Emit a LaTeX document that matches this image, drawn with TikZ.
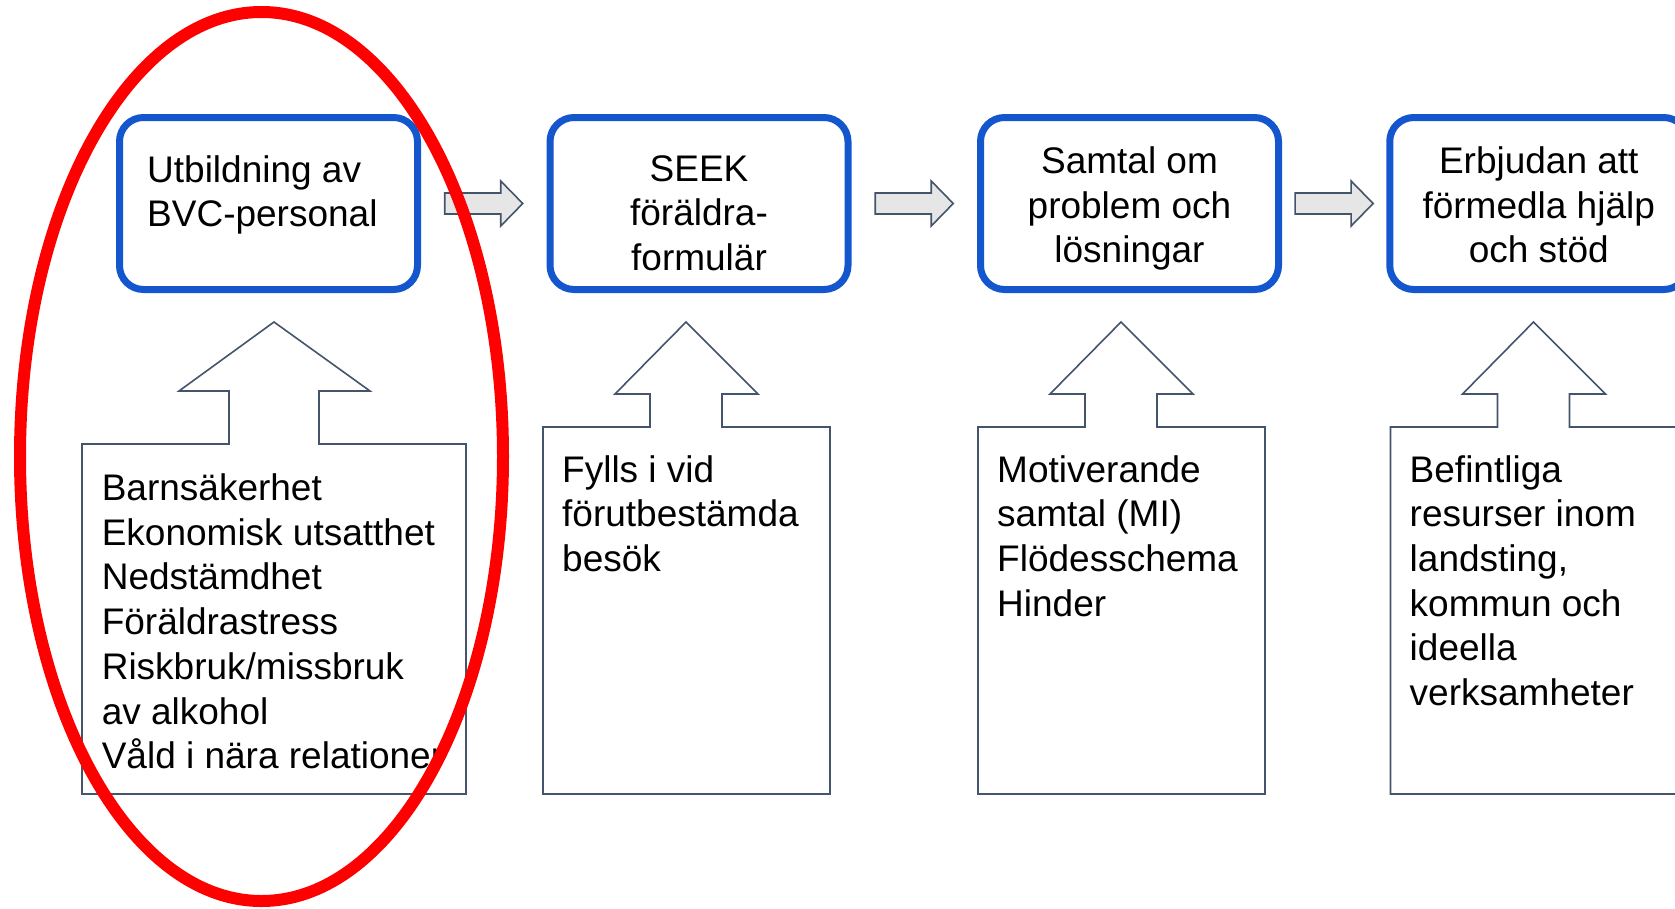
\documentclass[tikz,border=0pt]{standalone}
\usepackage{fontspec}
\setmainfont{Liberation Sans}
\usetikzlibrary{calc}
\definecolor{boxblue}{RGB}{20,86,205}
\definecolor{slate}{RGB}{68,84,106}
\definecolor{arrowgray}{RGB}{231,230,230}
\newcommand\bigtxt{\fontsize{37}{44.7}\selectfont}
\begin{document}
\begin{tikzpicture}[x=1pt,y=-1pt,
  stage/.style={draw=boxblue, line width=7pt, rounded corners=24pt, minimum width=298pt, minimum height=172pt, inner sep=0pt, fill=white},
  txt/.style={font=\bigtxt, inner sep=0pt, execute at begin node=\strut},
  callout/.style={draw=slate, line width=1.6pt, fill=white, line join=miter},
  garrowstyle/.style={draw=slate, line width=1.6pt, fill=arrowgray, line join=miter},
  ring/.style={draw=red, line width=12pt},
  garrow/.pic={\draw[garrowstyle] (-39,-10.5) -- (17,-10.5) -- (17,-22.5) -- (39,0) -- (17,22.5) -- (17,10.5) -- (-39,10.5) -- cycle;},
  upcallout/.pic={\draw[callout] (-143,472) -- (-143,105) -- (-36,105) -- (-36,72) -- (-71,72) -- (0,0) -- (72,72) -- (36,72) -- (36,105) -- (144,105) -- (144,472) -- cycle;}
]
\useasboundingbox (0,0) rectangle (1675,908);
\clip (0,0) rectangle (1675,908);

% stage boxes
\node[stage] (b1) at (268.5,203.5) {};
\node[stage] (b2) at (699,203.5) {};
\node[stage] (b3) at (1129.5,203.5) {};
\node[stage] (b4) at (1538.75,203.5) {};

% gray block arrows between stages
\path (b1.east) -- (b2.west) coordinate[midway] (m1);
\path (b2.east) -- (b3.west) coordinate[midway] (m2);
\path (b3.east) -- (b4.west) coordinate[midway] (m3);
\pic at (m1) {garrow};
\pic at (m2) {garrow};
\pic at (m3) {garrow};

% up-arrow callouts
\draw[callout] (82,794) -- (82,444) -- (229,444) -- (229,391) -- (179,391) -- (274,322) -- (370,391) -- (319,391) -- (319,444) -- (466,444) -- (466,794) -- cycle;
\coordinate (p2) at (686,322);
\coordinate (p3) at (1121,322);
\coordinate (p4) at (1533.5,322);
\pic at (p2) {upcallout};
\pic at (p3) {upcallout};
\pic at (p4) {upcallout};

% stage texts
\node[txt, anchor=north west, align=left] (t1) at (147,155.2) {Utbildning av\\BVC-personal};
\node[txt, anchor=north, align=center] (t2) at (699,155) {SEEK\\föräldra-\\formulär};
\node[txt, anchor=north, align=center] (t3) at (1129.5,146.5) {Samtal om\\problem och\\lösningar};
\node[txt, anchor=north, align=center] (t4) at (1538.75,146.5) {Erbjudan att\\förmedla hjälp\\och stöd};

% callout texts
\node[txt, anchor=north west, align=left] (s1) at (101.6,473.5) {Barnsäkerhet\\Ekonomisk utsatthet\\Nedstämdhet\\Föräldrastress\\Riskbruk/missbruk\\av alkohol\\Våld i nära relationer};
\node[txt, anchor=north west, align=left] (s2) at (562,455) {Fylls i vid\\förutbestämda\\besök};
\node[txt, anchor=north west, align=left] (s3) at (997,455) {Motiverande\\samtal (MI)\\Flödesschema\\Hinder};
\node[txt, anchor=north west, align=left] (s4) at (1409.5,455) {Befintliga\\resurser inom\\landsting,\\kommun och\\ideella\\verksamheter};

% red highlight ellipse
\draw[ring] (261.5,456.5) ellipse [x radius=241.5, y radius=444.5];
\end{tikzpicture}
\end{document}
